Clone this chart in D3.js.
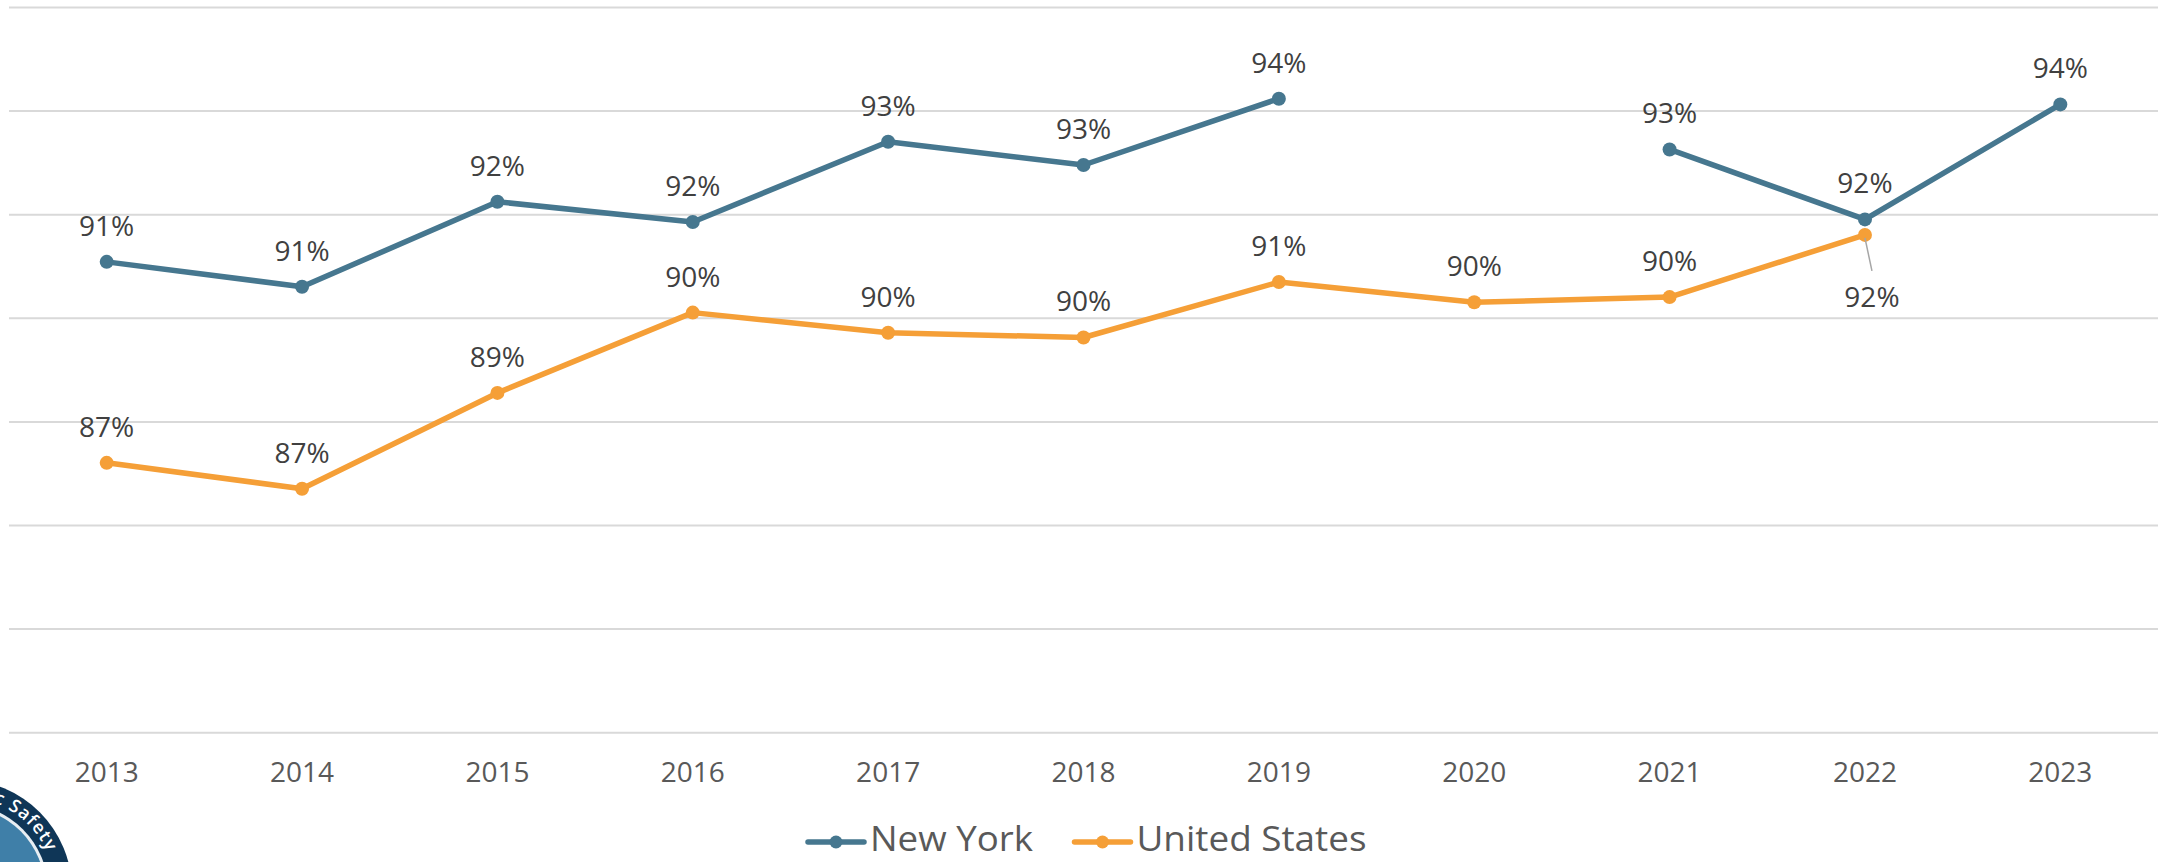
<!DOCTYPE html>
<html>
<head>
<meta charset="utf-8">
<script src="https://cdn.jsdelivr.net/npm/d3@7"></script>
<style>
  html, body { margin: 0; padding: 0; background: #ffffff; }
  svg { display: block; }
</style>
</head>
<body>
<svg id="chart" width="2160" height="862"></svg>
<script>
// ---- data ----
const years = ["2013","2014","2015","2016","2017","2018","2019","2020","2021","2022","2023"];
const newYork = [91.08, 90.6, 92.24, 91.85, 93.4, 92.95, 94.23, null, 93.25, 91.9, 94.12];
const unitedStates = [87.2, 86.7, 88.55, 90.1, 89.71, 89.62, 90.69, 90.3, 90.4, 91.6, null];
const seriesNames = ["New York", "United States"];
const gridValues = [82, 84, 86, 88, 90, 92, 94, 96];
const sealText = "ic Safety";

const colors = { "New York": "#46778f", "United States": "#f59f37" };

const svg = d3.select("#chart");

const x = d3.scaleBand().domain(years).range([9, 2158]).padding(0);
const cx = d => x(d) + x.bandwidth() / 2;
const y = d3.scaleLinear().domain([82, 96]).range([732.2, 7]);

// gridlines
const gridAxis = d3.axisLeft(y).tickValues(gridValues).tickSize(-(2158 - 9)).tickFormat("");
const gg = svg.append("g").attr("transform", "translate(9,0)").call(gridAxis);
gg.select(".domain").remove();
gg.selectAll(".tick line").attr("stroke", "#d9d9d9").attr("stroke-width", 2);

// x axis labels
const xAxis = d3.axisBottom(x).tickSize(0).tickPadding(0);
const xg = svg.append("g").attr("transform", "translate(0,762)").call(xAxis);
xg.select(".domain").remove();
xg.selectAll(".tick text")
  .attr("dy", "0.71em")
  .attr("y", 0)
  .attr("font-family", "'Open Sans', sans-serif")
  .attr("font-size", 28)
  .attr("fill", "#595959");

// series
const series = [
  { name: "New York", values: newYork },
  { name: "United States", values: unitedStates }
];

const line = d3.line()
  .defined(d => d.v != null)
  .x(d => cx(d.year))
  .y(d => y(d.v));

series.forEach(s => {
  const pts = years.map((yr, i) => ({ year: yr, v: s.values[i] }));
  svg.append("path")
    .datum(pts)
    .attr("fill", "none")
    .attr("stroke", colors[s.name])
    .attr("stroke-width", 5.5)
    .attr("stroke-linejoin", "round")
    .attr("d", line);
  svg.append("g").selectAll("circle")
    .data(pts.filter(d => d.v != null))
    .join("circle")
    .attr("cx", d => cx(d.year))
    .attr("cy", d => y(d.v))
    .attr("r", 7)
    .attr("fill", colors[s.name]);
});

// data labels
const labelFont = "'Open Sans', sans-serif";
series.forEach((s, si) => {
  const other = series[1 - si];
  years.forEach((yr, i) => {
    const v = s.values[i];
    if (v == null) return;
    const ov = other.values[i];
    const px = cx(yr), py = y(v);
    // crowded with the series above -> push label below with a leader line
    const below = si === 1 && ov != null && ov - v < 0.6;
    if (below) {
      svg.append("line")
        .attr("x1", px).attr("y1", py + 3)
        .attr("x2", px + 7).attr("y2", py + 36)
        .attr("stroke", "#a6a6a6").attr("stroke-width", 1.5);
      svg.append("text")
        .attr("x", px + 7).attr("y", py + 72)
        .attr("text-anchor", "middle")
        .attr("font-family", labelFont).attr("font-size", 28)
        .attr("fill", "#404040")
        .text(Math.round(v) + "%");
    } else {
      svg.append("text")
        .attr("x", px).attr("y", py - 26)
        .attr("text-anchor", "middle")
        .attr("font-family", labelFont).attr("font-size", 28)
        .attr("fill", "#404040")
        .text(Math.round(v) + "%");
    }
  });
});

// legend
const legendItems = [
  { name: seriesNames[0], x0: 808, len: 163 },
  { name: seriesNames[1], x0: 1074.5, len: 230 }
];
legendItems.forEach(it => {
  const g = svg.append("g");
  g.append("line")
    .attr("x1", it.x0).attr("x2", it.x0 + 56)
    .attr("y1", 842).attr("y2", 842)
    .attr("stroke", colors[it.name]).attr("stroke-width", 5.5)
    .attr("stroke-linecap", "round");
  g.append("circle")
    .attr("cx", it.x0 + 28).attr("cy", 842).attr("r", 6.5)
    .attr("fill", colors[it.name]);
  g.append("text")
    .attr("x", it.x0 + 62).attr("y", 851)
    .attr("font-family", "'Liberation Sans Narrow', 'Open Sans', sans-serif")
    .attr("font-size", 35)
    .attr("fill", "#595959")
    .attr("textLength", it.len)
    .attr("lengthAdjust", "spacingAndGlyphs")
    .text(it.name);
});

// logo seal (partially visible in the corner)
const lg = svg.append("g");
const lcx = -38, lcy = 890;
lg.append("circle").attr("cx", lcx).attr("cy", lcy).attr("r", 110).attr("fill", "#0f3657");
lg.append("circle").attr("cx", lcx).attr("cy", lcy).attr("r", 86).attr("fill", "#e8eef3");
lg.append("circle").attr("cx", lcx).attr("cy", lcy).attr("r", 83).attr("fill", "#3f7fa8");
const tr = 93;
lg.append("path")
  .attr("id", "sealArc")
  .attr("fill", "none")
  .attr("d", `M ${lcx - tr},${lcy} A ${tr},${tr} 0 0 1 ${lcx + tr},${lcy}`);
lg.append("text")
  .attr("font-family", "'Open Sans', sans-serif")
  .attr("font-size", 18)
  .attr("font-weight", 600)
  .attr("fill", "#ffffff")
  .attr("letter-spacing", 1)
  .append("textPath")
  .attr("href", "#sealArc")
  .attr("startOffset", tr * (156 * Math.PI / 180))
  .attr("text-anchor", "end")
  .text(sealText);
</script>
</body>
</html>
